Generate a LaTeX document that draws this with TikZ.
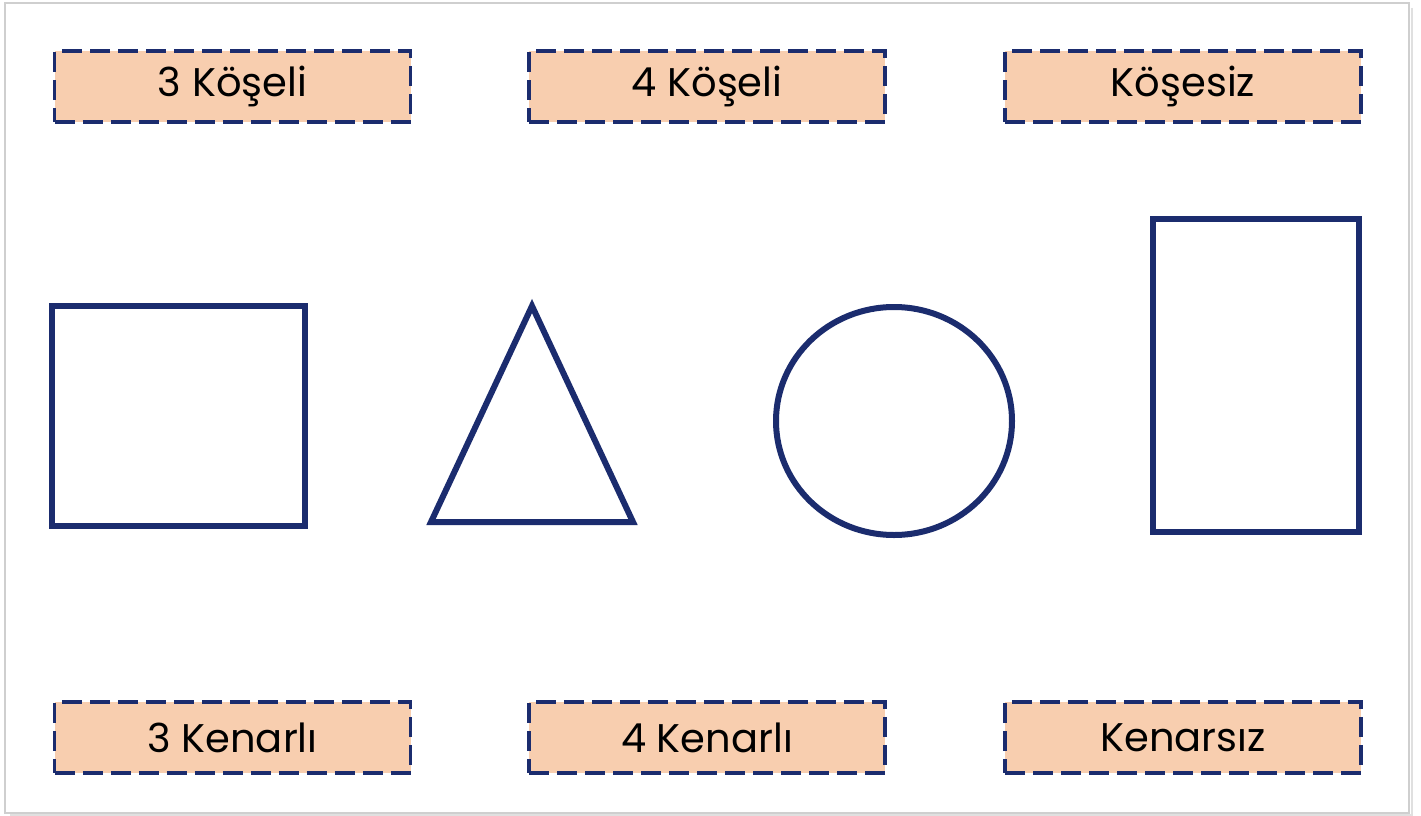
\documentclass[tikz,border=0pt]{standalone}
\usepackage{fontspec}
\setmainfont{Poppins}
\definecolor{navy}{HTML}{1B2C6E}
\definecolor{peach}{HTML}{F8CEAF}
\definecolor{framegray}{HTML}{CFCFCF}
\begin{document}
\begin{tikzpicture}[x=1pt,y=-1pt,
  lbox/.style={draw=navy,fill=peach,line width=3.6pt,dash pattern=on 20pt off 8pt,
    minimum width=356pt,minimum height=71pt,inner sep=0pt,font=\fontsize{40}{44}\selectfont,text=black},
  geo/.style={draw=navy,line width=6pt}]
\useasboundingbox (0,0) rectangle (1421,816);
\fill[white] (0,0) rectangle (1421,816);
\draw[framegray,line width=2pt] (5,3) rectangle (1409,813);
\draw[black!12,line width=2.5pt] (1412,8) -- (1412,816);
\draw[black!12,line width=2.5pt] (10,815.5) -- (1412,815.5);
% top labels
\node[lbox] (k3) at (232.5,86.5) {3 Köşeli};
\node[lbox] (k4) at (707,86.5) {4 Köşeli};
\node[lbox] (k0) at (1183,86.5) {Köşesiz};
% bottom labels
\node[lbox] (e3) at (232.5,737.5) {3 Kenarlı};
\node[lbox] (e4) at (707,737.5) {4 Kenarlı};
\node[lbox] (e0) at (1183,737.5) {Kenarsız};
% shapes
\draw[geo] (52,306) rectangle (305,526);
\draw[geo,line join=miter] (532,306) -- (633,522) -- (431,522) -- cycle;
\draw[geo] (894,421) ellipse [x radius=118, y radius=114];
\draw[geo] (1153,219) rectangle (1359,532);
\end{tikzpicture}
\end{document}
